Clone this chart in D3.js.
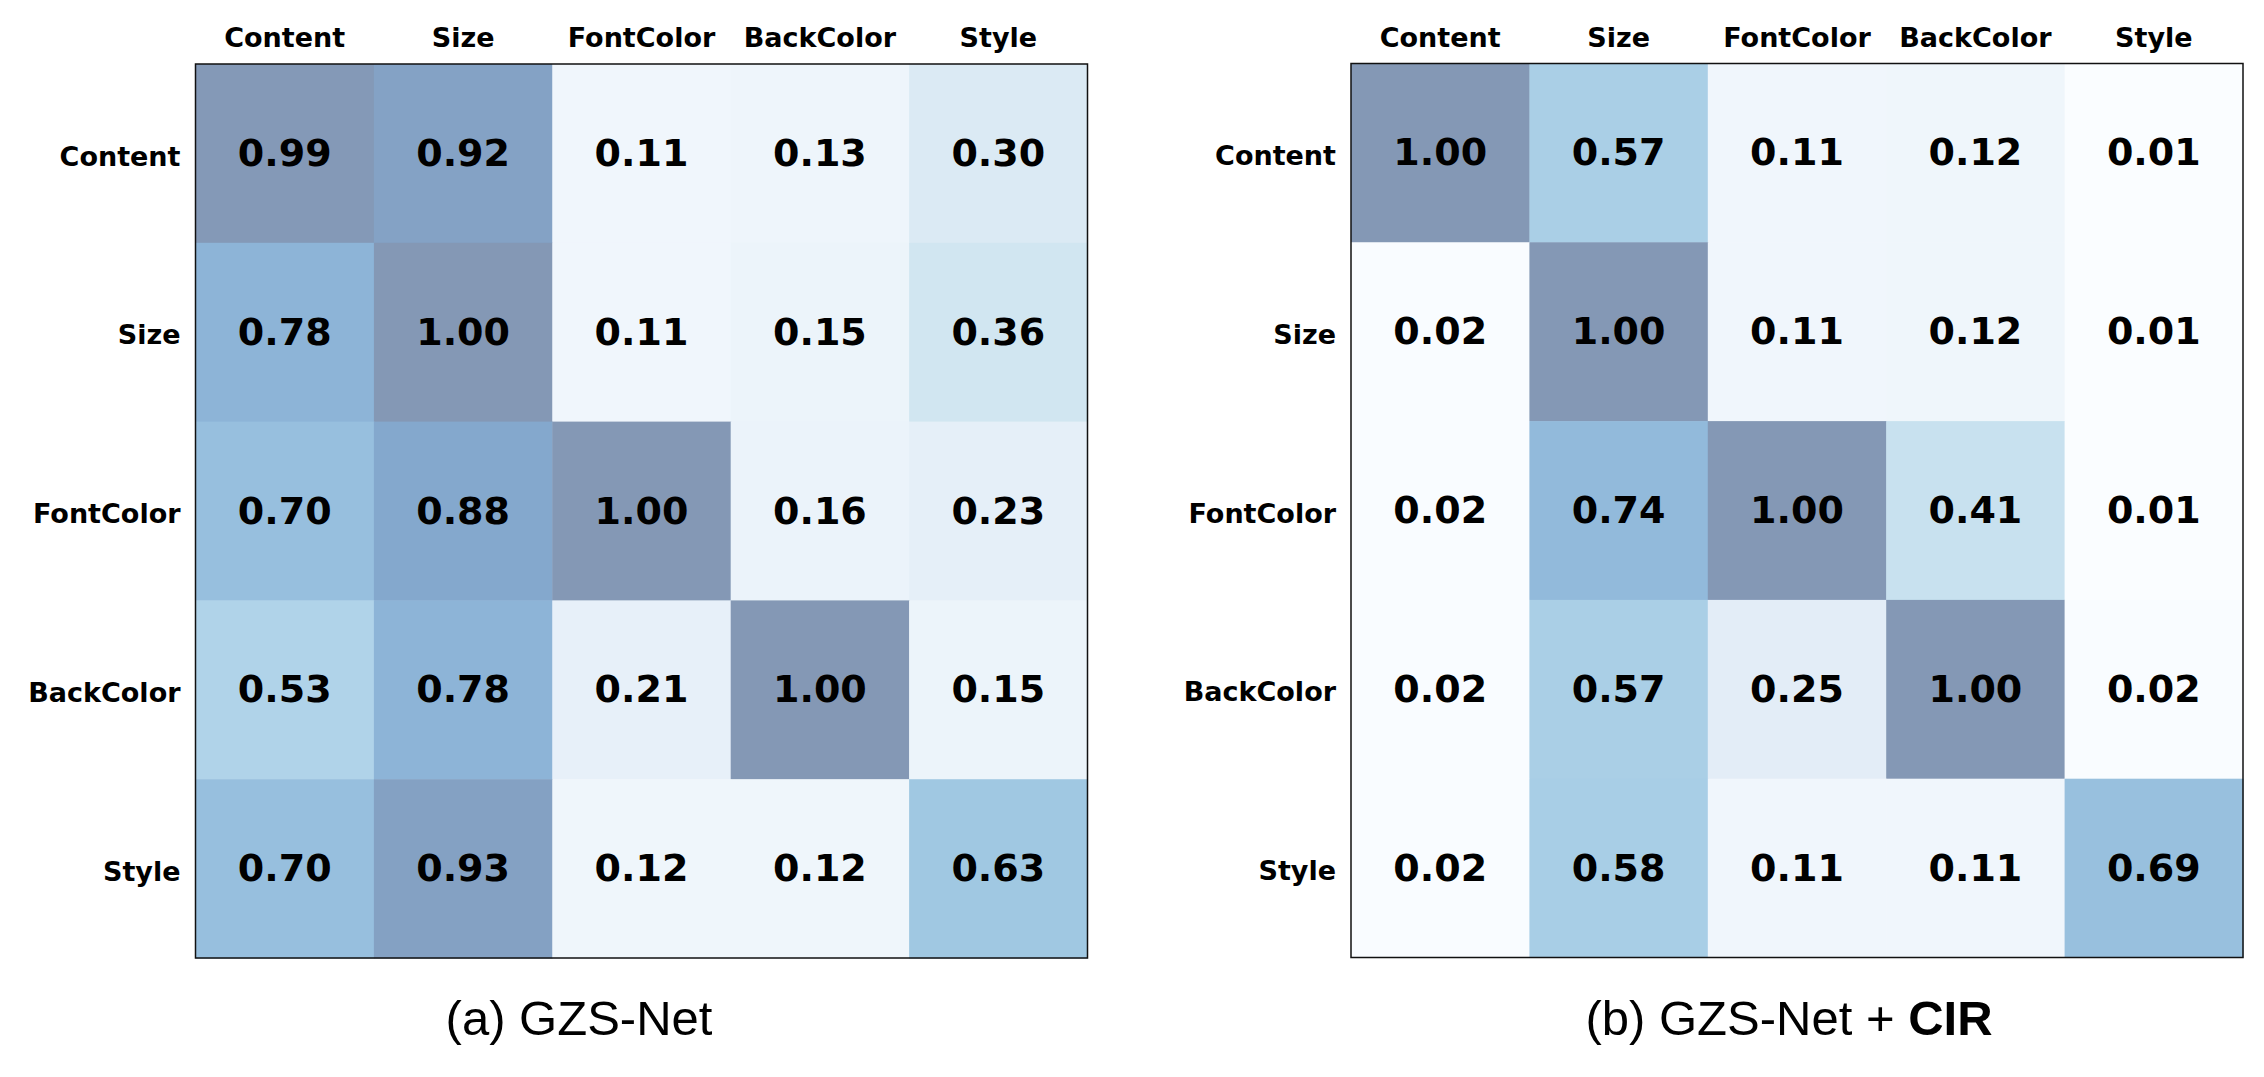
<!DOCTYPE html>
<html>
<head>
  <meta charset="UTF-8">
  <title>GZS-Net vs GZS-Net + CIR - heatmaps</title>
  <style>
      body {
          margin: 0;
          background-color: #fff;
      }

      svg {
          display: block;
      }

      .axis text {
          font-family: "DejaVu Sans", sans-serif;
          font-weight: bold;
          font-size: 27px;
          fill: #000;
      }

      .cell-label {
          font-family: "DejaVu Sans", sans-serif;
          font-weight: bold;
          font-size: 38px;
          fill: #000;
      }

      .caption {
          font-family: "Liberation Sans", Arial, sans-serif;
          font-size: 49px;
          fill: #000;
      }
  </style>
</head>

<body>
<svg id="chart" width="2264" height="1077"></svg>

<script src="https://cdnjs.cloudflare.com/ajax/libs/d3/7.8.5/d3.min.js"></script>
<script>
// Factor names (rows and columns)
var factors = ['Content', 'Size', 'FontColor', 'BackColor', 'Style'];

// (a) GZS-Net, one row per factor
var gzsNet = [
  [0.99, 0.92, 0.11, 0.13, 0.30],
  [0.78, 1.00, 0.11, 0.15, 0.36],
  [0.70, 0.88, 1.00, 0.16, 0.23],
  [0.53, 0.78, 0.21, 1.00, 0.15],
  [0.70, 0.93, 0.12, 0.12, 0.63]
];

// (b) GZS-Net + CIR
var gzsNetCir = [
  [1.00, 0.57, 0.11, 0.12, 0.01],
  [0.02, 1.00, 0.11, 0.12, 0.01],
  [0.02, 0.74, 1.00, 0.41, 0.01],
  [0.02, 0.57, 0.25, 1.00, 0.02],
  [0.02, 0.58, 0.11, 0.11, 0.69]
];

var captionA = '(a) GZS-Net';
var captionB = ['(b) GZS-Net + ', 'CIR'];

var svg = d3.select('#chart');

// Layout of the two panels
var size = { width: 892, height: 894 };
var panels = [
  { data: gzsNet, left: 195.5, top: 64, captionX: 579 },
  { data: gzsNetCir, left: 1351, top: 63.5, captionX: 1789 }
];
var captionY = 1035;

// Blues colormap (linear between the 9 brewer stops), shown at half alpha on white
var blues = d3.scaleLinear()
  .domain(d3.range(9).map(function(i) { return i / 8; }))
  .range(d3.schemeBlues[9])
  .clamp(true);
var color = function(v) {
  return d3.interpolateRgb(blues(v), '#ffffff')(0.5);
};

var x = d3.scaleBand().domain(factors).range([0, size.width]);
var y = d3.scaleBand().domain(factors).range([0, size.height]);

panels.forEach(function(p) {
  var g = svg.append('g')
    .attr('transform', 'translate(' + p.left + ',' + p.top + ')');

  // flatten matrix into cells
  var cells = [];
  p.data.forEach(function(row, i) {
    row.forEach(function(v, j) {
      cells.push({ row: factors[i], col: factors[j], value: v });
    });
  });

  g.selectAll('rect.cell')
    .data(cells)
    .enter()
    .append('rect')
    .attr('class', 'cell')
    .attr('x', function(d) { return x(d.col); })
    .attr('y', function(d) { return y(d.row); })
    .attr('width', x.bandwidth() + 0.5)
    .attr('height', y.bandwidth() + 0.5)
    .style('fill', function(d) { return color(d.value); });

  g.selectAll('text.cell-label')
    .data(cells)
    .enter()
    .append('text')
    .attr('class', 'cell-label')
    .attr('x', function(d) { return x(d.col) + x.bandwidth() / 2; })
    .attr('y', function(d) { return y(d.row) + y.bandwidth() / 2; })
    .attr('dy', '0.33em')
    .attr('text-anchor', 'middle')
    .text(function(d) { return d.value.toFixed(2); });

  // frame
  g.append('rect')
    .attr('width', size.width)
    .attr('height', size.height)
    .style('fill', 'none')
    .style('stroke', '#111')
    .style('stroke-width', 1.5);

  // axes: labels only
  g.append('g')
    .attr('class', 'axis top')
    .call(d3.axisTop(x).tickSize(0).tickPadding(17))
    .call(function(a) { a.select('.domain').remove(); });

  g.append('g')
    .attr('class', 'axis left')
    .call(d3.axisLeft(y).tickSize(0).tickPadding(15))
    .call(function(a) {
      a.select('.domain').remove();
      a.selectAll('text').attr('dy', '0.45em');
    });
});

// Captions
svg.append('text')
  .attr('class', 'caption')
  .attr('x', panels[0].captionX)
  .attr('y', captionY)
  .attr('text-anchor', 'middle')
  .text(captionA);

var capB = svg.append('text')
  .attr('class', 'caption')
  .attr('x', panels[1].captionX)
  .attr('y', captionY)
  .attr('text-anchor', 'middle');
capB.append('tspan').text(captionB[0]);
capB.append('tspan').style('font-weight', 'bold').text(captionB[1]);
</script>
</body>
</html>
